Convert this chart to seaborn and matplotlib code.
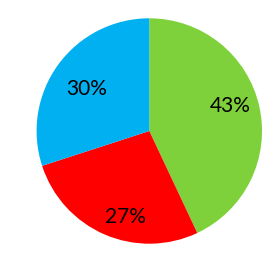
import matplotlib
matplotlib.use("Agg")
import numpy as np
import matplotlib.pyplot as plt
import seaborn as sns

sns.set_theme(style="white")

categories = ["A", "B", "C"]
values = [43, 27, 30]
colors = ["#7FD13B", "#FF0000", "#00B0F0"]

# label placement tweaks (angle offset in degrees, radial distance)
label_angle_offset = [4.8, 7.6, 2.0]
label_radius = [0.75, 0.79, 0.673]

W, H = 280, 256
fig = plt.figure(figsize=(W / 100, H / 100), dpi=100)
cx, cy, r = 149.3, 131.0, 112.7
ax = fig.add_axes([(cx - r) / W, (H - cy - r) / H, 2 * r / W, 2 * r / H])

wedges, texts, autotexts = ax.pie(
    values,
    colors=colors,
    startangle=90,
    counterclock=False,
    autopct="%1.0f%%",
    pctdistance=0.76,
    wedgeprops=dict(linewidth=0),
    textprops=dict(fontsize=15, family=["Lato", "DejaVu Sans"], color="#000000"),
)
for w, t, da, rr in zip(wedges, autotexts, label_angle_offset, label_radius):
    mid = np.deg2rad((w.theta1 + w.theta2) / 2 + da)
    t.set_position((rr * np.cos(mid), rr * np.sin(mid)))
    t.set_color("black")

ax.set_xlim(-1, 1)
ax.set_ylim(-1, 1)
ax.set_aspect("auto")
ax.axis("off")

fig.savefig("out.png", dpi=100, facecolor="white")
